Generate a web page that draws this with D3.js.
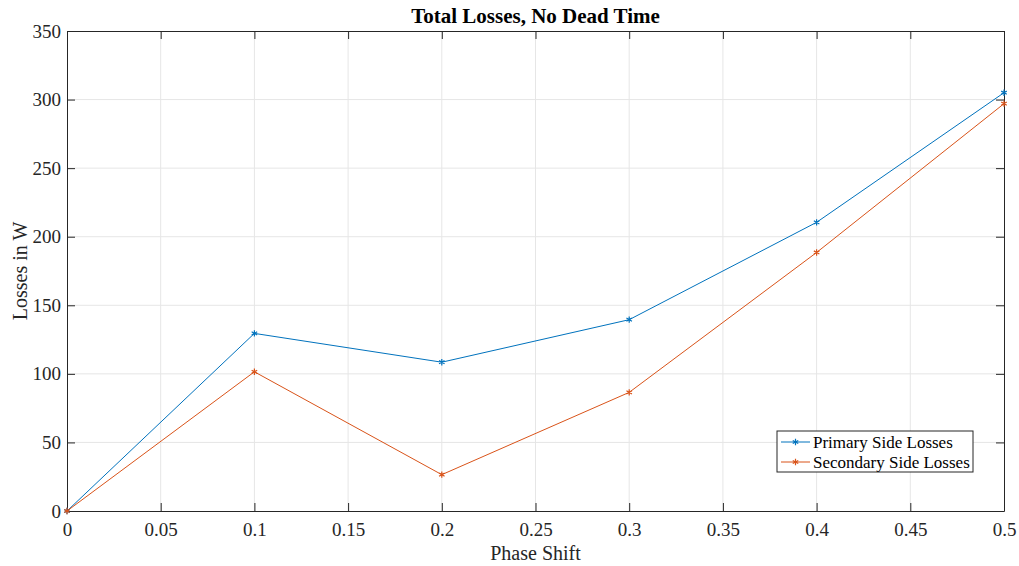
<!DOCTYPE html>
<html>
<head>
<meta charset="utf-8">
<script src="https://cdn.jsdelivr.net/npm/d3@7"></script>
<style>
  html, body { margin: 0; padding: 0; background: #fff; }
  svg { display: block; font-family: "Liberation Serif", "Times New Roman", serif; }
</style>
</head>
<body>
<svg id="chart" width="1019" height="566"></svg>
<script>
// Phase shift values and the losses measured at each one
const phaseShift = [0, 0.1, 0.2, 0.3, 0.4, 0.5];
const primaryLosses = [0, 129.5, 108.5, 139.5, 210.5, 305];
const secondaryLosses = [0, 101.5, 26.5, 86.5, 188.5, 297];
const xTicks = [0, 0.05, 0.1, 0.15, 0.2, 0.25, 0.3, 0.35, 0.4, 0.45, 0.5];
const yTicks = [0, 50, 100, 150, 200, 250, 300, 350];
const seriesNames = ["Primary Side Losses", "Secondary Side Losses"];
const seriesColors = ["#0072BD", "#D95319"];

const svg = d3.select("#chart");
const margin = { left: 67, top: 31, right: 1019 - 1004, bottom: 566 - 511 };
const W = 1019 - margin.left - margin.right;
const H = 566 - margin.top - margin.bottom;

const x = d3.scaleLinear().domain([0, 0.5]).range([0, W]);
const y = d3.scaleLinear().domain([0, 350]).range([H, 0]);

const g = svg.append("g").attr("transform", `translate(${margin.left},${margin.top})`);

// grid
g.append("g").selectAll("line").data(xTicks.slice(1, -1)).join("line")
  .attr("x1", d => x(d)).attr("x2", d => x(d)).attr("y1", 0).attr("y2", H)
  .attr("stroke", "#e6e6e6").attr("stroke-width", 1);
g.append("g").selectAll("line").data(yTicks.slice(1, -1)).join("line")
  .attr("y1", d => y(d)).attr("y2", d => y(d)).attr("x1", 0).attr("x2", W)
  .attr("stroke", "#e6e6e6").attr("stroke-width", 1);

// axes with inward ticks on all four sides
const tickLen = 8;
const fmtX = d => d3.format("~g")(d);
const xAxis = g.append("g").attr("transform", `translate(0,${H})`)
  .call(d3.axisBottom(x).tickValues(xTicks).tickFormat(fmtX).tickSizeInner(-tickLen).tickSizeOuter(0).tickPadding(12));
const yAxis = g.append("g")
  .call(d3.axisLeft(y).tickValues(yTicks).tickSizeInner(-tickLen).tickSizeOuter(0).tickPadding(6));
const xTop = g.append("g")
  .call(d3.axisTop(x).tickValues(xTicks).tickFormat("").tickSizeInner(-tickLen).tickSizeOuter(0));
const yRight = g.append("g").attr("transform", `translate(${W},0)`)
  .call(d3.axisRight(y).tickValues(yTicks).tickFormat("").tickSizeInner(-tickLen).tickSizeOuter(0));

[xAxis, yAxis, xTop, yRight].forEach(a => {
  a.select(".domain").attr("stroke", "#262626").attr("stroke-width", 1);
  a.selectAll(".tick line").attr("stroke", "#262626");
  a.selectAll("text").attr("fill", "#262626").style("font-size", "19px")
    .style("font-family", "Liberation Serif, serif");
});

// series
const series = [primaryLosses, secondaryLosses];
const line = d3.line().x((d, i) => x(phaseShift[i])).y(d => y(d));
const star = d3.symbol().type(d3.symbolAsterisk).size(28);

series.forEach((vals, k) => {
  g.append("path").datum(vals).attr("d", line)
    .attr("fill", "none").attr("stroke", seriesColors[k]).attr("stroke-width", 1);
  g.append("g").selectAll("path").data(vals).join("path")
    .attr("transform", (d, i) => `translate(${x(phaseShift[i])},${y(d)})`)
    .attr("d", star).attr("fill", "none").attr("stroke", seriesColors[k]).attr("stroke-width", 1.2);
});

// title and labels
svg.append("text").attr("x", margin.left + W / 2).attr("y", 23)
  .attr("text-anchor", "middle").style("font-size", "21px").style("font-weight", "bold")
  .attr("fill", "#000").text("Total Losses, No Dead Time");
svg.append("text").attr("x", margin.left + W / 2).attr("y", 560)
  .attr("text-anchor", "middle").style("font-size", "20px").attr("fill", "#262626").text("Phase Shift");
svg.append("text").attr("transform", `translate(27,${margin.top + H / 2}) rotate(-90)`)
  .attr("text-anchor", "middle").style("font-size", "20px").attr("fill", "#262626").text("Losses in W");

// legend
const lg = svg.append("g").attr("transform", "translate(777,431)");
lg.append("rect").attr("width", 196).attr("height", 41)
  .attr("fill", "#fff").attr("stroke", "#262626").attr("stroke-width", 1);
seriesNames.forEach((name, k) => {
  const yy = 11 + k * 20;
  lg.append("line").attr("x1", 4).attr("x2", 33).attr("y1", yy).attr("y2", yy)
    .attr("stroke", seriesColors[k]).attr("stroke-width", 1);
  lg.append("path").attr("transform", `translate(18.5,${yy})`).attr("d", star)
    .attr("fill", "none").attr("stroke", seriesColors[k]).attr("stroke-width", 1.2);
  lg.append("text").attr("x", 36).attr("y", yy + 5.5).style("font-size", "17px")
    .attr("fill", "#000").text(name);
});
</script>
</body>
</html>
